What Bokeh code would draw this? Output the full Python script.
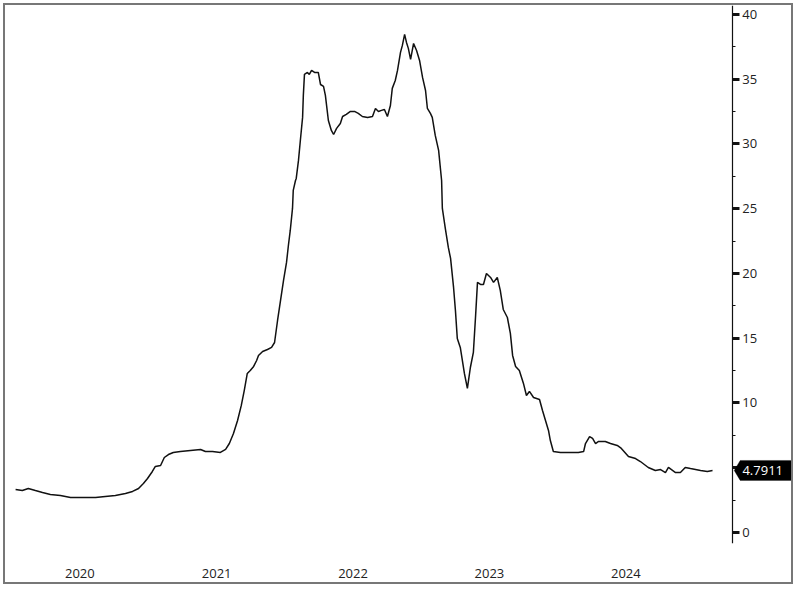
import pandas as pd
from bokeh.plotting import figure
from bokeh.models import (Range1d, SingleIntervalTicker, FixedTicker, PolyAnnotation,
                          Label, ColumnDataSource)
from bokeh.embed import file_html
from bokeh.resources import INLINE

# ---- data ----
dates = [
    "2020-01-11", "2020-01-29", "2020-02-14", "2020-03-04", "2020-03-23", "2020-04-13",
    "2020-05-10", "2020-06-06", "2020-07-03", "2020-08-12", "2020-09-07", "2020-10-04",
    "2020-10-31", "2020-11-19", "2020-12-05", "2020-12-18", "2020-12-29", "2021-01-11",
    "2021-01-19", "2021-02-02", "2021-02-12", "2021-02-23", "2021-03-08", "2021-03-27",
    "2021-04-23", "2021-05-20", "2021-06-02", "2021-06-21", "2021-07-12", "2021-07-26",
    "2021-08-05", "2021-08-16", "2021-08-27", "2021-09-06", "2021-09-14", "2021-09-22",
    "2021-09-30", "2021-10-09", "2021-10-17", "2021-10-22", "2021-11-02", "2021-11-15",
    "2021-11-26", "2021-12-04", "2021-12-12", "2021-12-20", "2021-12-28", "2022-01-05",
    "2022-01-10", "2022-01-15", "2022-01-21", "2022-01-23", "2022-01-29", "2022-01-31",
    "2022-02-06", "2022-02-11", "2022-02-17", "2022-02-19", "2022-02-22", "2022-03-02",
    "2022-03-07", "2022-03-13", "2022-03-21", "2022-03-31", "2022-04-06", "2022-04-14",
    "2022-04-19", "2022-04-27", "2022-05-05", "2022-05-11", "2022-05-19", "2022-05-29",
    "2022-06-04", "2022-06-14", "2022-06-25", "2022-07-06", "2022-07-16", "2022-07-27",
    "2022-08-10", "2022-08-23", "2022-08-31", "2022-09-08", "2022-09-16", "2022-09-24",
    "2022-10-02", "2022-10-10", "2022-10-15", "2022-10-23", "2022-10-29", "2022-11-06",
    "2022-11-11", "2022-11-17", "2022-11-22", "2022-11-27", "2022-12-03", "2022-12-11",
    "2022-12-19", "2022-12-27", "2023-01-04", "2023-01-12", "2023-01-17", "2023-01-25",
    "2023-01-30", "2023-02-07", "2023-02-16", "2023-02-24", "2023-02-26", "2023-03-06",
    "2023-03-14", "2023-03-20", "2023-03-28", "2023-04-02", "2023-04-07", "2023-04-15",
    "2023-04-26", "2023-05-04", "2023-05-12", "2023-05-20", "2023-05-26", "2023-05-31",
    "2023-06-08", "2023-06-16", "2023-06-24", "2023-07-05", "2023-07-13", "2023-07-23",
    "2023-07-31", "2023-08-08", "2023-08-19", "2023-08-27", "2023-09-02", "2023-09-10",
    "2023-09-20", "2023-10-01", "2023-10-09", "2023-10-17", "2023-10-28", "2023-11-13",
    "2023-11-21", "2023-11-29", "2023-12-07", "2023-12-12", "2023-12-20", "2024-01-08",
    "2024-02-04", "2024-02-25", "2024-03-10", "2024-03-15", "2024-03-26", "2024-04-03",
    "2024-04-11", "2024-04-19", "2024-05-07", "2024-05-21", "2024-06-08", "2024-06-19",
    "2024-07-08", "2024-07-27", "2024-08-09", "2024-08-30", "2024-09-18", "2024-10-02",
    "2024-10-15", "2024-10-23", "2024-11-11", "2024-11-24", "2024-12-07", "2024-12-21",
    "2025-01-17", "2025-02-04", "2025-02-18",
]
values = [
    3.32, 3.24, 3.40, 3.24, 3.09, 2.93,
    2.86, 2.70, 2.70, 2.70, 2.78, 2.86,
    3.01, 3.17, 3.40, 3.78, 4.17, 4.71,
    5.10, 5.17, 5.79, 6.02, 6.18, 6.25,
    6.33, 6.41, 6.25, 6.25, 6.18, 6.41,
    6.87, 7.64, 8.65, 9.81, 10.97, 12.28,
    12.51, 12.82, 13.28, 13.67, 13.98, 14.13,
    14.29, 14.67, 16.37, 17.92, 19.46, 20.85,
    22.16, 23.32, 25.02, 26.41, 27.18, 27.34,
    28.73, 30.27, 32.05, 33.75, 35.37, 35.52,
    35.37, 35.68, 35.52, 35.52, 34.59, 34.44,
    33.75, 31.81, 31.04, 30.73, 31.20, 31.58,
    32.12, 32.28, 32.51, 32.51, 32.36, 32.12,
    32.05, 32.12, 32.74, 32.51, 32.59, 32.66,
    32.12, 32.97, 34.29, 34.90, 35.68, 37.07,
    37.61, 38.46, 37.84, 37.38, 36.53, 37.76,
    37.22, 36.45, 35.14, 34.13, 32.74, 32.36,
    32.05, 30.66, 29.50, 27.18, 25.02, 23.47,
    22.01, 21.16, 18.92, 17.14, 14.98, 14.29,
    12.28, 11.12, 12.74, 13.90, 16.76, 19.31,
    19.15, 19.15, 20.00, 19.69, 19.31, 19.69,
    18.69, 17.22, 16.60, 15.37, 13.67, 12.82,
    12.51, 11.51, 10.58, 10.89, 10.42, 10.27,
    9.42, 8.65, 7.88, 7.10, 6.25, 6.18,
    6.18, 6.18, 6.25, 6.87, 7.41, 7.26,
    6.87, 7.03, 7.03, 6.87, 6.72, 6.49,
    5.87, 5.71, 5.48, 5.02, 4.79, 4.86,
    4.63, 5.02, 4.63, 4.63, 5.02, 4.94,
    4.79, 4.71, 4.7911,
]
year_labels = ["2020", "2021", "2022", "2023", "2024"]
year_label_dates = ["2020-07-01", "2021-07-02", "2022-07-02", "2023-07-02", "2024-07-01"]
last_value = 4.7911
x_start, x_end = "2019-12-15", "2025-09-28"   # full canvas width
axis_date = "2025-04-12"                      # where the value axis sits
y_start, y_end = -0.85, 40.69

FONT = "Open Sans"
TXT = "#222222"

src = ColumnDataSource(dict(x=pd.to_datetime(dates), y=values))

p = figure(width=790, height=581, x_axis_type="datetime", y_axis_location="right",
           x_range=Range1d(pd.Timestamp(x_start), pd.Timestamp(x_end)),
           y_range=Range1d(y_start, y_end),
           output_backend="svg", toolbar_location=None,
           min_border_left=0, min_border_top=0, min_border_right=0,
           min_border_bottom=43)
p.styles = {"margin-left": "3px", "margin-top": "3px", "border": "2px solid #777777"}
p.outline_line_color = None
p.background_fill_color = "white"
p.border_fill_color = "white"
p.xgrid.grid_line_color = None
p.ygrid.grid_line_color = None

p.line("x", "y", source=src, line_color="#111111", line_width=1.5)

# x axis: year labels centred in each year
tick_ms = [pd.Timestamp(d).value / 1e6 for d in year_label_dates]
xa = p.xaxis[0]
xa.ticker = FixedTicker(ticks=tick_ms)
xa.major_label_overrides = {t: lab for t, lab in zip(tick_ms, year_labels)}
xa.axis_line_color = None
xa.major_tick_line_color = None
xa.minor_tick_line_color = None
xa.major_label_standoff = 19
xa.major_label_text_font = FONT
xa.major_label_text_font_size = "13px"
xa.major_label_text_color = TXT

# value axis, fixed inside the frame
axis_ts = pd.Timestamp(axis_date)
ya = p.yaxis[0]
ya.fixed_location = axis_ts.value / 1e6
ya.ticker = SingleIntervalTicker(interval=5, num_minor_ticks=2)
ya.axis_line_color = "#111111"
ya.axis_line_width = 1.2
ya.major_tick_in = 0
ya.major_tick_out = 7
ya.major_tick_line_width = 3
ya.major_tick_line_color = "#111111"
ya.minor_tick_in = 0
ya.minor_tick_out = 3
ya.minor_tick_line_color = "#111111"
ya.major_label_standoff = 3
ya.major_label_text_font = FONT
ya.major_label_text_font_size = "13px"
ya.major_label_text_color = TXT

# last-value tag, to the right of the axis
def ms(ts):
    return ts.value / 1e6

tip = axis_ts + pd.Timedelta(days=5)
left = axis_ts + pd.Timedelta(days=21)
right = pd.Timestamp(x_end)
half = 0.77
tag = PolyAnnotation(
    xs=[ms(tip), ms(left), ms(right), ms(right), ms(left)],
    ys=[last_value, last_value + half, last_value + half, last_value - half, last_value - half],
    fill_color="black", fill_alpha=1.0, line_color="black")
p.add_layout(tag)
p.add_layout(Label(x=ms(axis_ts + pd.Timedelta(days=27)), y=last_value,
                   text=f"{last_value:.4f}", text_color="white", text_font=FONT,
                   text_font_size="13px", text_baseline="middle", text_align="left"))

open("out.html", "w").write(file_html(p, INLINE))
